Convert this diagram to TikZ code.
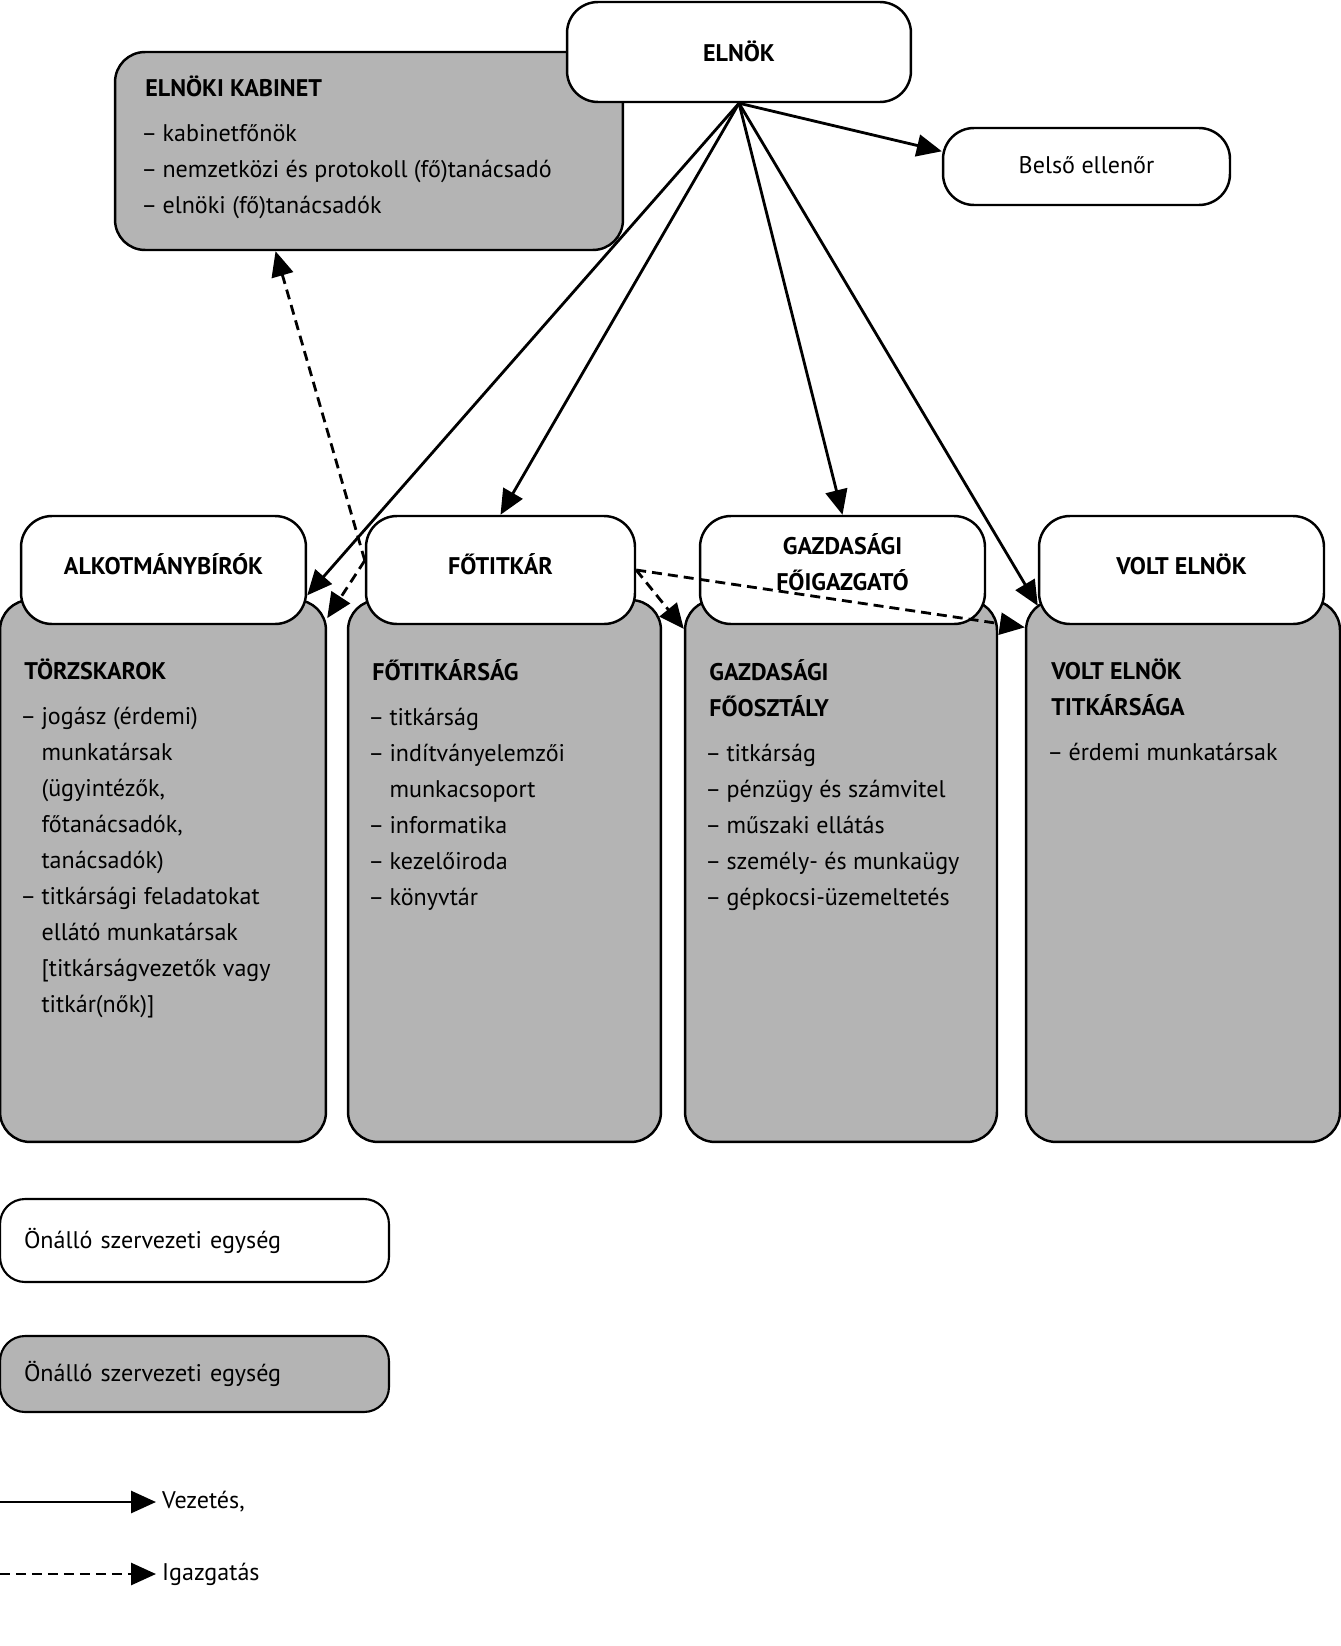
\documentclass[tikz,border=0pt]{standalone}
\usepackage{fontspec}
\setmainfont{PT Sans}
\usetikzlibrary{arrows.meta}
\definecolor{szurke}{RGB}{180,180,180}
\newcommand\betu{\fontsize{13.7pt}{20.5pt}\selectfont}
\newcommand\dsh{\hspace{-0.08cm}–\hspace{0.22em}}
\newcommand\beh{\hspace{-0.08cm}\phantom{–}\hspace{0.22em}}
\tikzset{
  egyseg/.style={draw, line width=1.4pt, rounded corners=0.62cm, fill=white, align=center, font=\betu\bfseries, text depth=0.22cm},
  osztaly/.style={draw, line width=1.4pt, rounded corners=0.6cm, fill=szurke},
  lista/.style={anchor=north west, align=left, inner sep=0pt},
  jelmagy/.style={draw, line width=1.2pt, rounded corners=0.5cm, minimum width=7.78cm, inner xsep=0.48cm, text width=6.82cm, align=left},
  vezet/.style={->, line width=1.6pt},
  igazg/.style={->, line width=1.6pt, dash pattern=on 0.2cm off 0.12cm},
}

\begin{document}
\begin{tikzpicture}[x=0.02cm, y=-0.02cm, >={Triangle[length=0.5cm,width=0.44cm]},
  font=\betu]
\useasboundingbox (0,0) rectangle (1340,1646);

% szurke dobozok
\node[osztaly, minimum width=10.16cm, minimum height=3.96cm] (kabinet) at (369,151) {};
\node[osztaly, minimum width=6.52cm, minimum height=10.84cm] (torzs) at (163,871) {};
\node[osztaly, minimum width=6.26cm, minimum height=10.84cm] (fotitsag) at (504.5,871) {};
\node[osztaly, minimum width=6.24cm, minimum height=10.84cm] (gazdfo) at (841,871) {};
\node[osztaly, minimum width=6.28cm, minimum height=10.84cm] (volttit) at (1183,871) {};

% feher dobozok
\node[egyseg, text depth=0.04cm, minimum width=6.88cm, minimum height=2cm] (elnok) at (739,52) {ELNÖK};
\node[egyseg, font=\betu, text depth=0.06cm, minimum width=5.74cm, minimum height=1.54cm] (belso) at (1086.5,166.5) {Belső ellenőr};
\node[egyseg, minimum width=5.7cm, minimum height=2.16cm] (alkot) at (163.5,570) {ALKOTMÁNYBÍRÓK};
\node[egyseg, minimum width=5.38cm, minimum height=2.16cm] (fotitkar) at (500.5,570) {FŐTITKÁR};
\node[egyseg, text depth=0.3cm, minimum width=5.7cm, minimum height=2.16cm] (gazd) at (842.5,570) {GAZDASÁGI\\FŐIGAZGATÓ};
\node[egyseg, minimum width=5.7cm, minimum height=2.16cm] (volt) at (1181.5,570) {VOLT ELNÖK};

% listak
\node[lista] (kabinetlista) at (145,76) {\textbf{ELNÖKI KABINET}\\[5pt]
  \dsh kabinetfőnök\\
  \dsh nemzetközi és protokoll (fő)tanácsadó\\
  \dsh elnöki (fő)tanácsadók};
\node[lista] (torzslista) at (24,659) {\textbf{TÖRZSKAROK}\\[5pt]
  \dsh jogász (érdemi)\\ \beh munkatársak\\ \beh (ügyintézők,\\ \beh főtanácsadók,\\ \beh tanácsadók)\\
  \dsh titkársági feladatokat\\ \beh ellátó munkatársak\\ \beh [titkárságvezetők vagy\\ \beh titkár(nők)]};
\node[lista] (fotitsaglista) at (372,659) {\textbf{FŐTITKÁRSÁG}\\[5pt]
  \dsh titkárság\\
  \dsh indítványelemzői\\ \beh munkacsoport\\
  \dsh informatika\\
  \dsh kezelőiroda\\
  \dsh könyvtár};
\node[lista] (gazdfolista) at (709,659) {\textbf{GAZDASÁGI}\\ \textbf{FŐOSZTÁLY}\\[5pt]
  \dsh titkárság\\
  \dsh pénzügy és számvitel\\
  \dsh műszaki ellátás\\
  \dsh személy- és munkaügy\\
  \dsh gépkocsi-üzemeltetés};
\node[lista] (volttitlista) at (1051,659) {\textbf{VOLT ELNÖK}\\ \textbf{TITKÁRSÁGA}\\[5pt]
  \dsh érdemi munkatársak};

% nyilak
\foreach \cel in {belso.174, alkot.-10, fotitkar.north, gazd.north, volt.194}
  \draw[vezet] (elnok.south) -- (\cel);
\foreach \cel in {kabinet.227, torzs.57}
  \draw[igazg] (fotitkar.176) -- (\cel);
\foreach \cel in {gazdfo.123, volttit.123}
  \draw[igazg] (fotitkar.east) -- (\cel);

% jelmagyarazat
\node[jelmagy, minimum height=1.66cm] (jel1) at (194.5,1240.5) {Önálló szervezeti egység};
\node[jelmagy, fill=szurke, minimum height=1.52cm] (jel2) at (194.5,1374) {Önálló szervezeti egység};
\coordinate (v0) at (0,1502);
\coordinate (i0) at (0,1574);
\node[right] (vez) at (156,1502) {Vezetés,};
\node[right] (igaz) at (156,1574) {Igazgatás};
\draw[vezet] (v0) -- (vez);
\draw[igazg] (i0) -- (igaz);

\end{tikzpicture}
\end{document}
